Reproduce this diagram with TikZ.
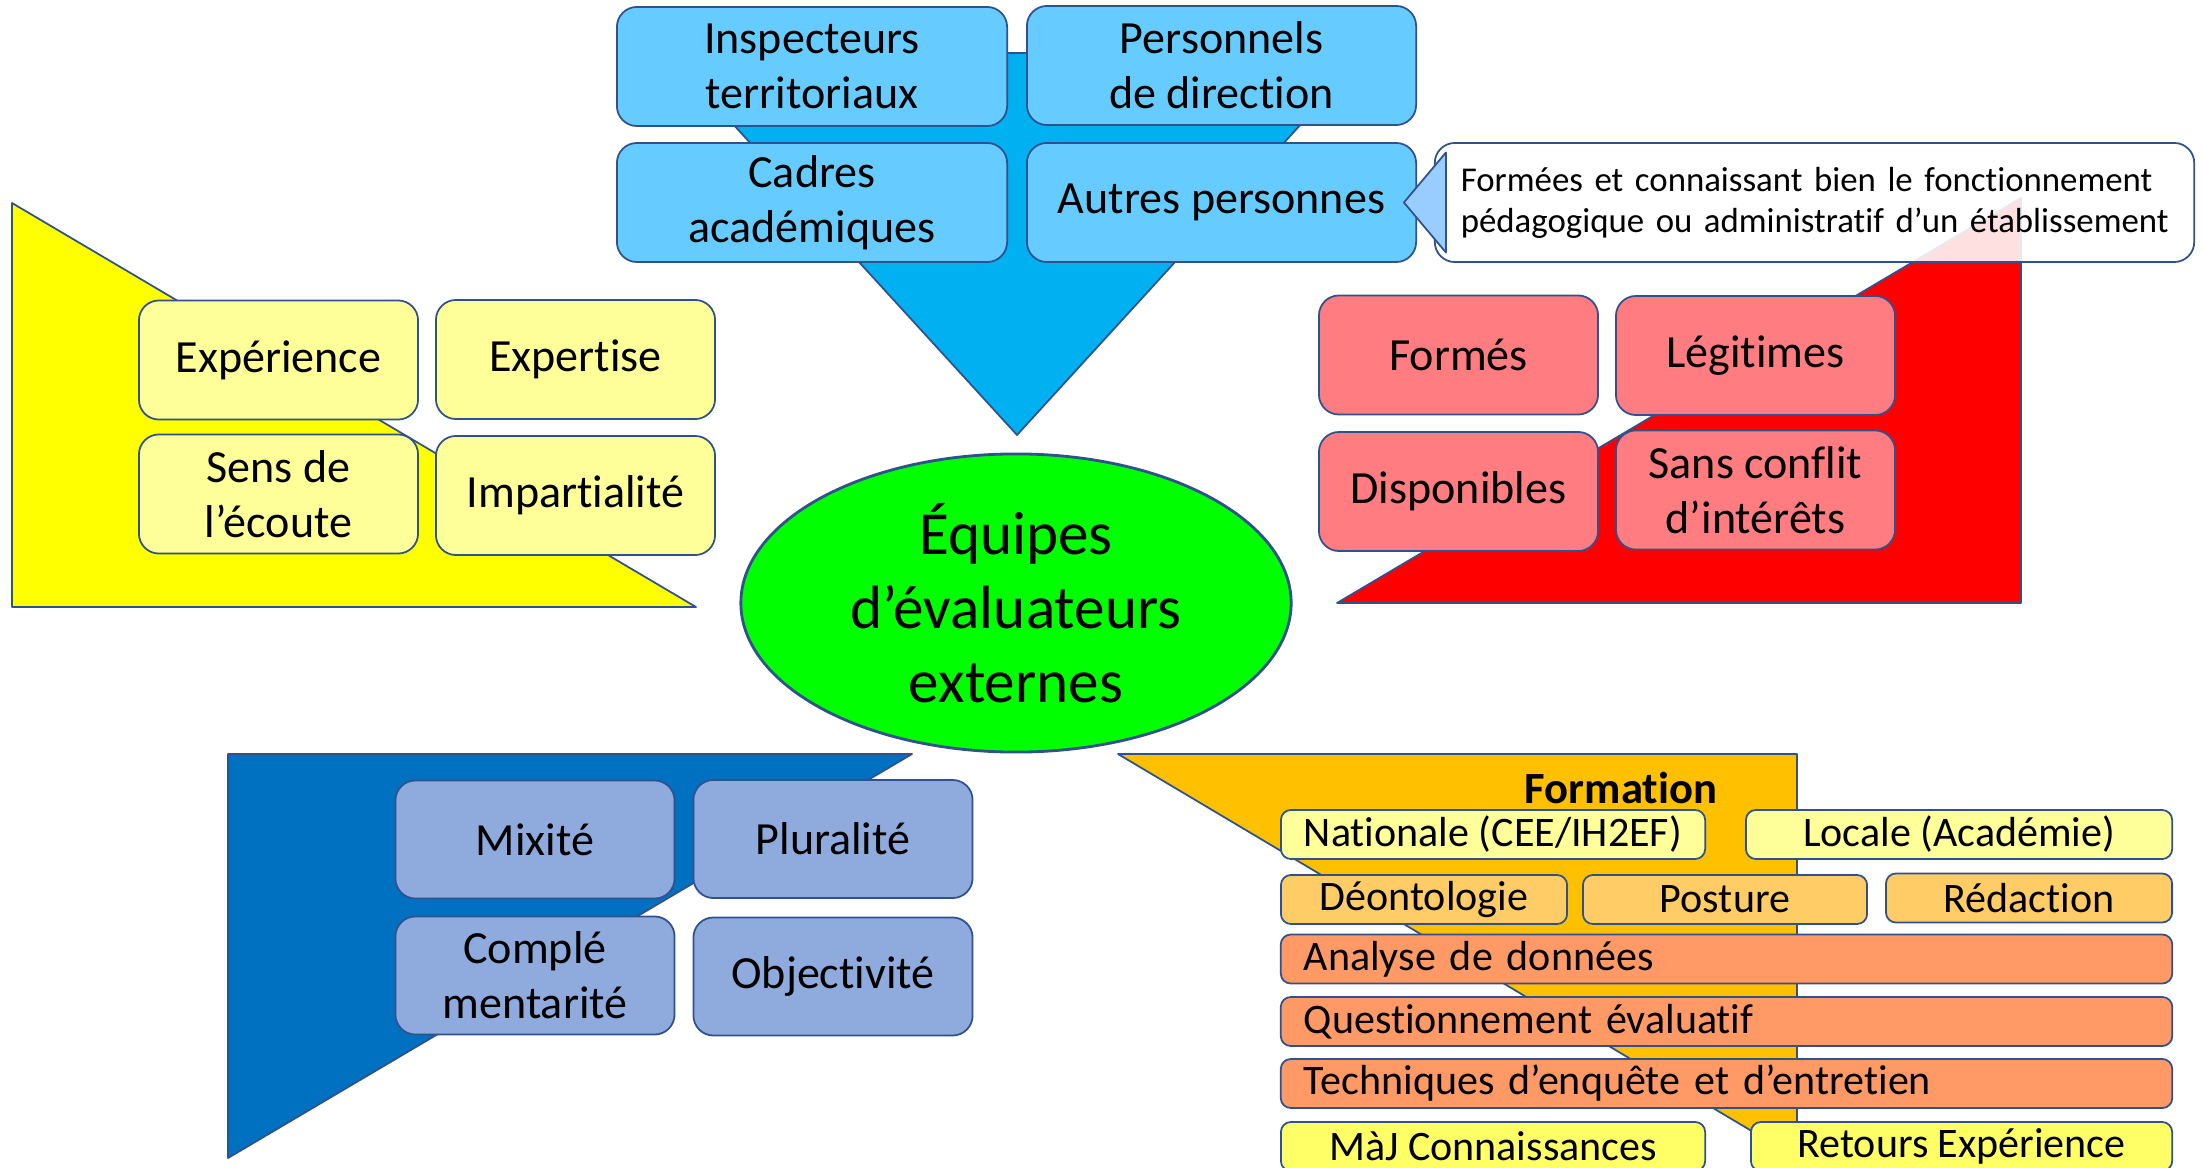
\documentclass[tikz,border=0pt]{standalone}
\usepackage{fontspec}
\setmainfont{Carlito}[Ligatures=NoCommon]
\usetikzlibrary{shapes.geometric}

\definecolor{edge}{HTML}{2F528F}
\definecolor{skyfill}{HTML}{00B0F0}
\definecolor{skybox}{HTML}{66CCFF}
\definecolor{pointer}{HTML}{99CCFF}
\definecolor{lemon}{HTML}{FFFF00}
\definecolor{paleyellow}{HTML}{FFFF99}
\definecolor{brightyellow}{HTML}{FFFF66}
\definecolor{redfill}{HTML}{FF0000}
\definecolor{pinkbox}{HTML}{FF7C80}
\definecolor{navyfill}{HTML}{0070C0}
\definecolor{periwinkle}{HTML}{8FAADC}
\definecolor{amber}{HTML}{FFC000}
\definecolor{lightorange}{HTML}{FFCC66}
\definecolor{salmon}{HTML}{FF9966}
\definecolor{lime}{HTML}{00FF00}

\newcommand{\fntbox}{\fontsize{13.1}{15.6}\selectfont}
\newcommand{\fntsmall}{\fontsize{11.95}{14}\selectfont}
\newcommand{\fntnote}{\fontsize{9.9}{11.7}\selectfont}
\newcommand{\fntcore}{\fontsize{17.4}{21}\selectfont}
\newcommand{\fntlabel}{\fontsize{12.7}{15}\selectfont\bfseries}

\tikzset{
  shape line/.style={draw=edge, line width=0.5pt, line join=round},
  bigbox/.style={shape line, rounded corners=0.2cm, minimum width=2.79cm,
    minimum height=1.19cm, inner sep=0pt, align=center, font=\fntbox},
  flatbox/.style={shape line, rounded corners=0.1cm, minimum height=0.49cm,
    inner sep=0pt, font=\fntsmall},
  longbox/.style={flatbox, fill=salmon, minimum width=8.91cm,
    text width=8.45cm, inner xsep=0.23cm, align=left}
}

\begin{document}
\begin{tikzpicture}[x=0.01cm, y=-0.01cm]
  \useasboundingbox (0,0) rectangle (2204,1167);
  \clip (0,0) rectangle (2204,1167);

  % background triangles
  \filldraw[shape line, fill=skyfill] (668,53) -- (1366,53) -- (1017,435) -- cycle;
  \filldraw[shape line, fill=lemon] (12,203) -- (12,607) -- (696,607) -- cycle;
  \filldraw[shape line, fill=redfill] (1337,603) -- (2021,603) -- (2021,198) -- cycle;
  \filldraw[shape line, fill=navyfill] (228,754) -- (912,754) -- (228,1158) -- cycle;
  \filldraw[shape line, fill=amber] (1118,754) -- (1797,754) -- (1797,1158) -- cycle;

  % top: who
  \node[bigbox, fill=skybox, minimum width=3.9cm] (insp) at (812,66.5) {Inspecteurs\\territoriaux};
  \node[bigbox, fill=skybox, minimum width=3.89cm] (pers) at (1221.5,65.5) {Personnels\\de direction};
  \node[bigbox, fill=skybox, minimum width=3.9cm] (cadr) at (812,202.5) {Cadres\\académiques};
  \node[bigbox, fill=skybox, minimum width=3.89cm] (autr) at (1221.5,202.5) {Autres personnes};

  % callout
  \node[shape line, fill=white, fill opacity=0.88, text opacity=1, rounded corners=0.2cm,
    minimum width=7.59cm, minimum height=1.19cm, inner sep=0pt, font=\fntnote,
    text width=7.07cm, align=center] (note) at (1814.5,202.5)
    {\makebox[7.07cm][s]{Formées et connaissant bien le fonctionnement}\\
     \makebox[7.07cm][s]{pédagogique ou administratif d’un établissement}};
  \filldraw[shape line, fill=pointer] ([xshift=-0.3cm]note.west)
    -- ([xshift=0.12cm, yshift=0.5cm]note.west)
    -- ([xshift=0.12cm, yshift=-0.5cm]note.west) -- cycle;

  % left: qualities
  \node[bigbox, fill=paleyellow] (expe) at (278.5,360) {Expérience};
  \node[bigbox, fill=paleyellow] (expt) at (575.5,359.5) {Expertise};
  \node[bigbox, fill=paleyellow] (sens) at (278.5,494) {Sens de\\l’écoute};
  \node[bigbox, fill=paleyellow] (impa) at (575.5,495.5) {Impartialité};

  % right: conditions
  \node[bigbox, fill=pinkbox] (forme) at (1458.5,355) {Formés};
  \node[bigbox, fill=pinkbox] (legi) at (1755.5,355.5) {Légitimes};
  \node[bigbox, fill=pinkbox] (disp) at (1458.5,491.5) {Disponibles};
  \node[bigbox, fill=pinkbox] (sans) at (1755.5,490) {Sans conflit\\d’intérêts};

  % bottom left: composition
  \node[bigbox, fill=periwinkle, minimum height=1.18cm] (mixi) at (535,839.5) {Mixité};
  \node[bigbox, fill=periwinkle, minimum height=1.18cm] (plur) at (833,839) {Pluralité};
  \node[bigbox, fill=periwinkle, minimum height=1.18cm] (comp) at (535,975.5) {Complé\\mentarité};
  \node[bigbox, fill=periwinkle, minimum height=1.18cm] (obje) at (833,976.5) {Objectivité};

  % centre
  \node[ellipse, shape line, line width=0.8pt, fill=lime, minimum width=5.5cm,
    minimum height=2.98cm, inner sep=0pt, align=center, font=\fntcore] (core)
    at (1016,603) {Équipes\\d’évaluateurs\\externes};

  % bottom right: formation
  \node[font=\fntlabel, inner sep=0pt] (formlbl) at (1621,788) {Formation};
  \node[flatbox, fill=paleyellow, minimum width=4.24cm] (nati) at (1493,834.5) {Nationale (CEE/IH2EF)};
  \node[flatbox, fill=paleyellow, minimum width=4.26cm] (loca) at (1959,834.5) {Locale (Académie)};
  \node[flatbox, fill=lightorange, minimum width=2.86cm] (deon) at (1424,899.5) {Déontologie};
  \node[flatbox, fill=lightorange, minimum width=2.84cm] (post) at (1725,899.5) {Posture};
  \node[flatbox, fill=lightorange, minimum width=2.86cm] (reda) at (2029,898) {Rédaction};
  \foreach \y/\nm/\txt in {959/anal/Analyse de données,
      1021.5/ques/Questionnement évaluatif,
      1083.5/tech/Techniques d’enquête et d’entretien}
    \node[longbox] (\nm) at (1726.5,\y) {\txt};
  \node[flatbox, fill=brightyellow, minimum width=4.24cm] (majc) at (1493,1146.5) {MàJ Connaissances};
  \node[flatbox, fill=brightyellow, minimum width=4.21cm] (reto) at (1961.5,1146.5) {Retours Expérience};
\end{tikzpicture}
\end{document}
